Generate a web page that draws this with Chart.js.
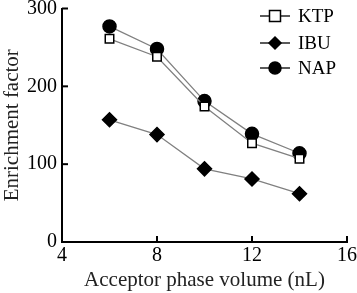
<!DOCTYPE html>
<html><head><meta charset="utf-8">
<script src="https://cdn.jsdelivr.net/npm/chart.js@4/dist/chart.umd.min.js"></script>
<style>html,body{margin:0;padding:0;background:#fff}#wrap{width:357px;height:293px}</style>
</head><body><div id="wrap"><canvas id="c" width="357" height="293"></canvas></div>
<script>
const volumes = [6, 8, 10, 12, 14];
const ktp = [261, 238, 174, 127, 107];
const ibu = [157, 138, 94, 81, 62];
const nap = [277, 248, 181, 139, 114];
const xTicks = [4, 8, 12, 16];
const yTicks = [0, 100, 200, 300];
const seriesNames = ['KTP', 'IBU', 'NAP'];

const FONT = '"Liberation Serif", "Times New Roman", serif';
const toPts = arr => arr.map((v, i) => ({x: volumes[i], y: v}));

const styles = [
  {pointStyle: 'rect', radius: 6, bg: '#fff'},
  {pointStyle: 'rectRot', radius: 7, bg: '#000'},
  {pointStyle: 'circle', radius: 6.5, bg: '#000'}
];
const values = [ktp, ibu, nap];

const datasets = seriesNames.map((n, k) => ({
  label: n,
  data: toPts(values[k]),
  borderColor: '#808080',
  borderWidth: 1.3,
  pointStyle: styles[k].pointStyle,
  pointRadius: styles[k].radius,
  pointBackgroundColor: styles[k].bg,
  pointBorderColor: '#000',
  pointBorderWidth: 1.5,
  tension: 0
}));

const decor = {
  id: 'decor',
  afterDraw(chart) {
    const ctx = chart.ctx;
    const xs = chart.scales.x, ys = chart.scales.y;
    ctx.save();
    ctx.strokeStyle = '#000';
    ctx.lineWidth = 2;
    const L = 6;
    xTicks.forEach(t => {
      const px = xs.getPixelForValue(t);
      ctx.beginPath(); ctx.moveTo(px, ys.bottom); ctx.lineTo(px, ys.bottom - L); ctx.stroke();
    });
    yTicks.forEach(t => {
      const py = ys.getPixelForValue(t);
      ctx.beginPath(); ctx.moveTo(xs.left, py); ctx.lineTo(xs.left + L, py); ctx.stroke();
    });
    // legend
    const lx0 = 260, lx1 = 290, tx = 298;
    const rows = [16, 43, 68];
    ctx.font = '19px ' + FONT;
    ctx.textBaseline = 'middle';
    seriesNames.forEach((n, k) => {
      const y = rows[k];
      ctx.strokeStyle = '#000'; ctx.lineWidth = 1.3;
      ctx.beginPath(); ctx.moveTo(lx0, y); ctx.lineTo(lx1, y); ctx.stroke();
      const cx = (lx0 + lx1) / 2;
      ctx.lineWidth = 1.5;
      ctx.fillStyle = styles[k].bg;
      ctx.beginPath();
      if (k === 0) { ctx.rect(cx - 5.5, y - 5.5, 11, 11); }
      else if (k === 1) { ctx.moveTo(cx, y - 6); ctx.lineTo(cx + 6, y); ctx.lineTo(cx, y + 6); ctx.lineTo(cx - 6, y); ctx.closePath(); }
      else { ctx.arc(cx, y, 6, 0, Math.PI * 2); }
      ctx.fill(); ctx.stroke();
      ctx.fillStyle = '#000';
      ctx.fillText(n, tx, y + 1);
    });
    ctx.restore();
  }
};

new Chart(document.getElementById('c'), {
  type: 'line',
  data: {datasets},
  options: {
    responsive: false,
    animation: false,
    layout: {padding: {top: 7, right: 10, left: 0, bottom: 0}},
    plugins: {legend: {display: false}, tooltip: {enabled: false}},
    scales: {
      x: {
        type: 'linear', min: 4, max: 16,
        afterBuildTicks: s => { s.ticks = xTicks.map(v => ({value: v})); },
        grid: {display: false, drawTicks: false},
        border: {display: true, color: '#000', width: 2},
        ticks: {color: '#000', font: {family: FONT, size: 20}, padding: 2, maxRotation: 0},
        title: {display: true, text: 'Acceptor phase volume (nL)', color: '#222', font: {family: FONT, size: 21}, padding: {top: 0, bottom: 0}},
        afterFit: s => { s.height = 51; s.paddingLeft = 0; s.paddingRight = 0; }
      },
      y: {
        min: 0, max: 300,
        afterBuildTicks: s => { s.ticks = yTicks.map(v => ({value: v})); },
        grid: {display: false, drawTicks: false},
        border: {display: true, color: '#000', width: 2},
        ticks: {color: '#000', font: {family: FONT, size: 20}, padding: 5},
        title: {display: true, text: 'Enrichment factor', color: '#222', font: {family: FONT, size: 21}, padding: {top: 0, bottom: 0}},
        afterFit: s => { s.width = 62; s.paddingTop = 0; s.paddingBottom = 0; }
      }
    }
  },
  plugins: [decor]
});
</script></body></html>
